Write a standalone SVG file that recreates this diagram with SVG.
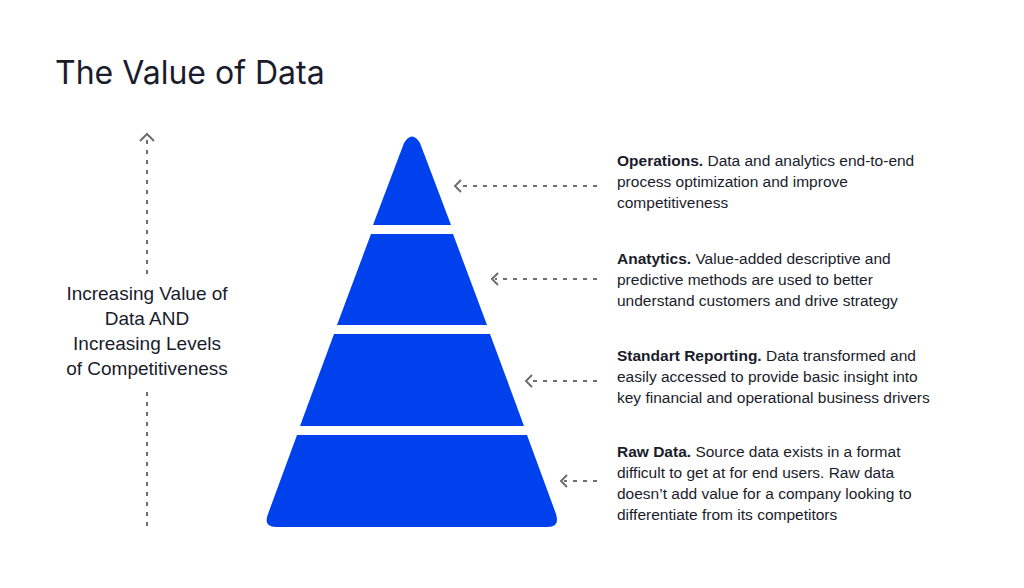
<svg xmlns="http://www.w3.org/2000/svg" width="1024" height="588" viewBox="0 0 1024 588">
<style>
.t{font-family:"Liberation Sans",Arial,sans-serif;fill:#1a1c2b}
.d{stroke:#6e6e6e;stroke-width:2;stroke-dasharray:4 6;fill:none}
.h{stroke:#6e6e6e;stroke-width:2;fill:none}
.b{fill:#0041ee}
</style>
<rect width="1024" height="588" fill="#fff"/>
<text class="t" x="55" y="84" font-size="32" style="font-family:Inter,'Liberation Sans',sans-serif" fill="#0f1a3a">The Value of Data</text>
<g id="axis">
<line class="d" x1="147" y1="140" x2="147" y2="276"/>
<line class="d" x1="147" y1="392" x2="147" y2="528"/>
<polyline class="h" points="140,141 147,134 154,141"/>
<text class="t" font-size="19" text-anchor="middle"><tspan x="147" y="300">Increasing Value of</tspan><tspan x="147" y="325">Data AND</tspan><tspan x="147" y="350">Increasing Levels</tspan><tspan x="147" y="375">of Competitiveness</tspan></text>
</g>
<g id="ops"><path class="b" d="M404,143 Q412,130 420,143 L451,225 L373,225 Z"/></g>
<g id="analytics"><path class="b" d="M371,234 L453,234 L487,325 L337,325 Z"/></g>
<g id="reporting"><path class="b" d="M334,334 L490,334 L524,426 L300,426 Z"/></g>
<g id="raw"><path class="b" d="M297,435 L527,435 L556,514 Q560,527 548,527 L276,527 Q263,527 268,514 Z"/></g>
<g id="connectors">
<line class="d" x1="597" y1="186" x2="458" y2="186"/><polyline class="h" points="461,180 455,186 461,192"/>
<line class="d" x1="597" y1="279" x2="495" y2="279"/><polyline class="h" points="498,273 492,279 498,285"/>
<line class="d" x1="597" y1="381" x2="529" y2="381"/><polyline class="h" points="532,375 526,381 532,387"/>
<line class="d" x1="597" y1="481" x2="564" y2="481"/><polyline class="h" points="567,475 561,481 567,487"/>
</g>
<g class="t" font-size="15.5">
<text x="617"><tspan x="617" y="166"><tspan font-weight="bold">Operations.</tspan> Data and analytics end-to-end</tspan><tspan x="617" y="187">process optimization and improve</tspan><tspan x="617" y="208">competitiveness</tspan></text>
<text><tspan x="617" y="264"><tspan font-weight="bold">Anatytics.</tspan> Value-added descriptive and</tspan><tspan x="617" y="285">predictive methods are used to better</tspan><tspan x="617" y="306">understand customers and drive strategy</tspan></text>
<text><tspan x="617" y="361"><tspan font-weight="bold">Standart Reporting.</tspan> Data transformed and</tspan><tspan x="617" y="382">easily accessed to provide basic insight into</tspan><tspan x="617" y="403">key financial and operational business drivers</tspan></text>
<text><tspan x="617" y="457"><tspan font-weight="bold">Raw Data.</tspan> Source data exists in a format</tspan><tspan x="617" y="478">difficult to get at for end users. Raw data</tspan><tspan x="617" y="499">doesn’t add value for a company looking to</tspan><tspan x="617" y="520">differentiate from its competitors</tspan></text>
</g>
</svg>
